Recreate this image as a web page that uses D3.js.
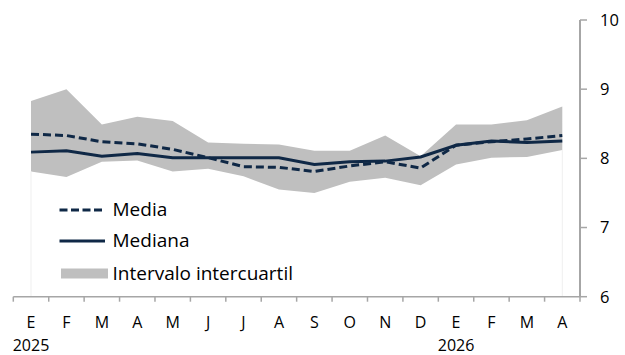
<!DOCTYPE html>
<html><head><meta charset="utf-8">
<script src="https://cdn.jsdelivr.net/npm/d3@7"></script>
<style>
html,body{margin:0;padding:0;background:#fff;}
svg{display:block;font-family:"Open Sans","Liberation Sans",sans-serif;}
</style></head>
<body><svg id="c" width="625" height="355"></svg>
<script>
const months = ["E","F","M","A","M","J","J","A","S","O","N","D","E","F","M","A"];
const years = [{i:0,label:"2025"},{i:12,label:"2026"}];
const media   = [8.35,8.33,8.24,8.21,8.13,8.01,7.88,7.87,7.81,7.89,7.95,7.86,8.19,8.24,8.28,8.33];
const mediana = [8.09,8.11,8.03,8.07,8.01,8.01,8.01,8.01,7.91,7.95,7.96,8.02,8.19,8.25,8.23,8.25];
const q75     = [8.83,9.00,8.49,8.60,8.54,8.23,8.21,8.20,8.11,8.11,8.33,8.03,8.49,8.49,8.55,8.75];
const q25     = [7.81,7.73,7.95,7.97,7.81,7.85,7.74,7.55,7.50,7.66,7.72,7.61,7.91,8.01,8.02,8.12];
const yTicks = [6,7,8,9,10];

const navy = "#0f2846", grey = "#bfbfbf", axisC = "#a6a6a6";
const svg = d3.select("#c");
const pL = 13.3, pR = 580, pT = 20, pB = 296.7;
const idx = d3.range(months.length);
const x = d3.scaleBand().domain(idx).range([pL, pR]).paddingInner(0).paddingOuter(0);
const cx = i => x(i) + x.bandwidth()/2;
const y = d3.scaleLinear().domain([6,10]).range([pB, pT]);

// interquartile band
svg.append("path")
  .datum(idx)
  .attr("fill", grey)
  .attr("d", d3.area().x(i=>cx(i)).y0(i=>y(q25[i])).y1(i=>y(q75[i])));

// faint edges
[0, idx.length-1].forEach(i=>{
  svg.append("line").attr("x1",cx(i)).attr("x2",cx(i)).attr("y1",y(q25[i])).attr("y2",pB)
    .attr("stroke","#efefef").attr("stroke-width",1);
});

const line = arr => d3.line().x(i=>cx(i)).y(i=>y(arr[i]));
svg.append("path").datum(idx).attr("fill","none").attr("stroke",navy).attr("stroke-width",3)
  .attr("d", line(mediana));
svg.append("path").datum(idx).attr("fill","none").attr("stroke",navy).attr("stroke-width",3)
  .attr("stroke-dasharray","8,4").attr("d", line(media));

// x axis
const xAxis = svg.append("g").attr("transform",`translate(0,${pB})`);
xAxis.append("line").attr("x1",pL).attr("x2",pR).attr("stroke",axisC).attr("stroke-width",1.5);
d3.range(months.length+1).forEach(k=>{
  const xx = pL + k*x.bandwidth();
  xAxis.append("line").attr("x1",xx).attr("x2",xx).attr("y1",0).attr("y2",5).attr("stroke",axisC).attr("stroke-width",1.5);
});
xAxis.selectAll("text.m").data(idx).enter().append("text")
  .attr("x",i=>cx(i)).attr("y",31).attr("text-anchor","middle")
  .attr("font-size",16).attr("fill","#000").text(i=>months[i]);
xAxis.selectAll("text.y").data(years).enter().append("text")
  .attr("x",d=>cx(d.i)).attr("y",54).attr("text-anchor","middle")
  .attr("font-size",16).attr("fill","#000").text(d=>d.label);

// y axis (right)
const yAxis = svg.append("g").attr("transform",`translate(${pR},0)`);
yAxis.append("line").attr("y1",pT).attr("y2",pB).attr("stroke",axisC).attr("stroke-width",2);
yTicks.forEach(t=>{
  yAxis.append("line").attr("x1",0).attr("x2",7).attr("y1",y(t)).attr("y2",y(t)).attr("stroke",axisC).attr("stroke-width",1.5);
  yAxis.append("text").attr("x",20).attr("y",y(t)).attr("dy","0.36em")
    .attr("font-size",16.5).attr("fill","#000").text(t);
});

// legend
const lg = svg.append("g");
const items = [
  {label:"Media", type:"dash", y:210},
  {label:"Mediana", type:"line", y:241},
  {label:"Intervalo intercuartil", type:"rect", y:273.5}
];
items.forEach(it=>{
  if(it.type==="rect"){
    lg.append("rect").attr("x",61).attr("y",it.y-5).attr("width",47).attr("height",10).attr("fill",grey);
  } else {
    lg.append("line").attr("x1",59.5).attr("x2",105).attr("y1",it.y).attr("y2",it.y)
      .attr("stroke",navy).attr("stroke-width",3)
      .attr("stroke-dasharray", it.type==="dash" ? "8,3.5" : null);
  }
  lg.append("text").attr("x",112.5).attr("y",it.y).attr("dy","0.32em")
    .attr("font-size",19).attr("fill","#000").text(it.label);
});
</script></body></html>
